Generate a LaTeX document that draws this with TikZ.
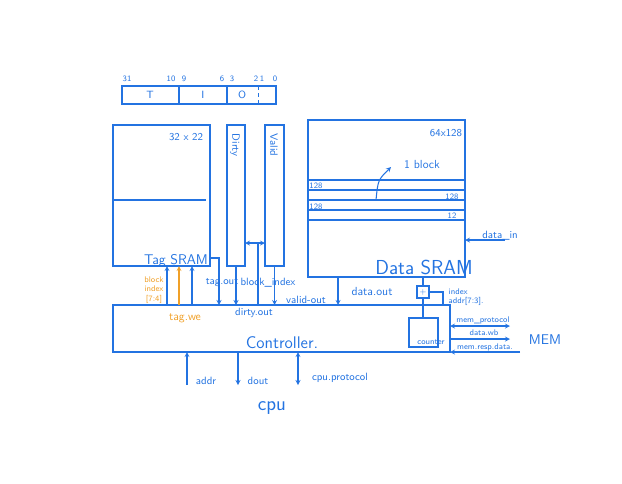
\documentclass[tikz,border=0pt]{standalone}
\usepackage{tikz}
\usetikzlibrary{positioning}
\definecolor{pen}{RGB}{35,115,225}
\definecolor{hl}{RGB}{240,160,40}

\begin{document}
\begin{tikzpicture}[x=0.3mm,y=-0.3mm,>=stealth,line width=0.9pt,pen,
  box/.style={draw,inner sep=0pt,outer sep=0pt,anchor=north west},
  lbl/.style={font=\sffamily\small,inner sep=1pt},
  small lbl/.style={font=\sffamily\scriptsize,inner sep=1pt},
  tiny lbl/.style={font=\sffamily\scriptsize,inner sep=1pt,align=center}]
  \useasboundingbox (0,0) rectangle (622,483);

  % address fields
  \node[box,minimum width=46.2mm,minimum height=5.4mm] (addr) at (122,86) {};
  \draw (addr.north -| 179,0) -- (addr.south -| 179,0);
  \draw (addr.north -| 227,0) -- (addr.south -| 227,0);
  \draw[dashed,line width=0.5pt] (addr.north -| 258,0) -- (addr.south -| 258,0);
  \node[lbl] (fT) at (150,95) {T};
  \node[lbl] (fI) at (203,95) {I};
  \node[lbl] (fO) at (242,95) {O};
  \foreach \b/\x in {31/127,10/171,9/184,6/222,3/232,2/256,1/262,0/275}
    \node[small lbl] (b\b) at (\x,79) {\b};

  % tag sram
  \node[box,minimum width=29.1mm,minimum height=42.3mm] (tag) at (113,125) {};
  \draw (tag.west |- 0,200) -- (206,200);
  \node[lbl] (tagsize) at (186,137) {32 x 22};
  \node[font=\sffamily\large,inner sep=0pt] (tagname) at (176,261) {Tag SRAM};

  % dirty / valid
  \node[box,minimum width=5.4mm,minimum height=42.3mm] (dirty) at (227,125) {};
  \node[lbl,rotate=-90] (dirtyname) at (235,145) {Dirty};
  \node[box,minimum width=5.7mm,minimum height=42.3mm] (valid) at (265,125) {};
  \node[lbl,rotate=-90] (validname) at (274,145) {Valid};
  \draw[<->] (dirty.east |- 0,243) -- (valid.west |- 0,243);

  % data sram
  \node[box,minimum width=47.1mm,minimum height=47.1mm] (data) at (308,120) {};
  \foreach \y in {180,190,200,210,220}
    \draw (data.west |- 0,\y) -- (data.east |- 0,\y);
  \node[small lbl] (w1) at (316,186) {128};
  \node[small lbl] (w2) at (452,197) {128};
  \node[small lbl] (w3) at (316,207) {128};
  \node[small lbl] (w4) at (452,216) {12};
  \node[lbl] (datasize) at (446,133) {64x128};
  \node[lbl,font=\sffamily] (blk) at (422,164) {1 block};
  \draw[->] (376,200) .. controls (378,180) .. (391,167);
  \node[font=\sffamily\LARGE,inner sep=0pt] (dataname) at (424,267) {Data SRAM};

  % controller
  \node[box,minimum width=101.1mm,minimum height=14.1mm] (ctrl) at (113,305) {};
  \node[font=\sffamily\Large] (ctrlname) at (282,343) {Controller.};
  \node[box,minimum size=3.6mm,font=\sffamily\scriptsize] (plus) at (417,286) {+};
  \node[box,minimum width=8.7mm,minimum height=8.7mm] (cnt) at (409,318) {};
  \node[tiny lbl] (cntname) at (431,342) {counter};
  \draw (data.south -| plus.north) -- (plus.north);
  \draw (plus.south) -- (cnt.north -| plus.south);
  \draw (plus.east) -| (ctrl.north -| 443,0);
  \node[tiny lbl,anchor=west,align=left] (idx) at (447,297) {index\\addr[7:3].};

  % tag side
  \draw[->] (ctrl.north -| 167,0) -- (tag.south -| 167,0);
  \draw[->,hl] (ctrl.north -| 179,0) -- (tag.south -| 179,0);
  \draw[->] (ctrl.north -| 192,0) -- (tag.south -| 192,0);
  \node[tiny lbl,hl] (bidx) at (154,290) {block\\index\\{[7:4]}};
  \node[font=\sffamily,hl] (tagwe) at (185,318) {tag.we};
  \draw[->] (tag.east |- 0,258) -| (ctrl.north -| 219,0);
  \node[lbl] (tagout) at (222,283) {tag.out};
  \draw[->] (dirty.south) -- (dirty.south |- ctrl.north);
  \node[lbl] (dirtyout) at (254,313) {dirty.out};
  \coordinate (bi) at (258,243);
  \draw (bi) -- (bi |- ctrl.north);
  \node[lbl] (bindex) at (268,283) {block\_index};
  \draw[->] (valid.south) -- (valid.south |- ctrl.north);
  \node[lbl] (validout) at (306,300) {valid-out};

  % data side
  \draw[->] (data.south -| 338,0) -- (ctrl.north -| 338,0);
  \node[font=\sffamily] (dataout) at (372,291) {data.out};
  \coordinate (din) at (505,240);
  \draw[->] (din) -- (data.east |- din);
  \node[lbl] (dinname) at (500,236) {data\_in};

  % memory
  \coordinate (mp) at (510,326);
  \coordinate (mw) at (510,339);
  \coordinate (mr) at (520,352);
  \draw[<->] (ctrl.east |- mp) -- (mp);
  \draw[->] (ctrl.east |- mw) -- (mw);
  \draw[->] (mr) -- (ctrl.east |- mr);
  \node[tiny lbl] (mpname) at (483,320) {mem\_protocol};
  \node[tiny lbl] (mwname) at (484,333) {data.wb};
  \node[tiny lbl] (mrname) at (485,347) {mem.resp.data.};
  \node[font=\sffamily\large] (mem) at (545,340) {MEM};

  % cpu
  \coordinate (ca) at (187,385);
  \coordinate (cd) at (238,385);
  \coordinate (cp) at (298,385);
  \draw[->] (ca) -- (ca |- ctrl.south);
  \draw[->] (cd |- ctrl.south) -- (cd);
  \draw[<->] (cp |- ctrl.south) -- (cp);
  \node[lbl] (caname) at (206,381) {addr};
  \node[lbl] (cdname) at (258,381) {dout};
  \node[lbl] (cpname) at (340,378) {cpu.protocol};
  \node[font=\sffamily\LARGE] (cpu) at (272,408) {cpu};
\end{tikzpicture}
\end{document}
